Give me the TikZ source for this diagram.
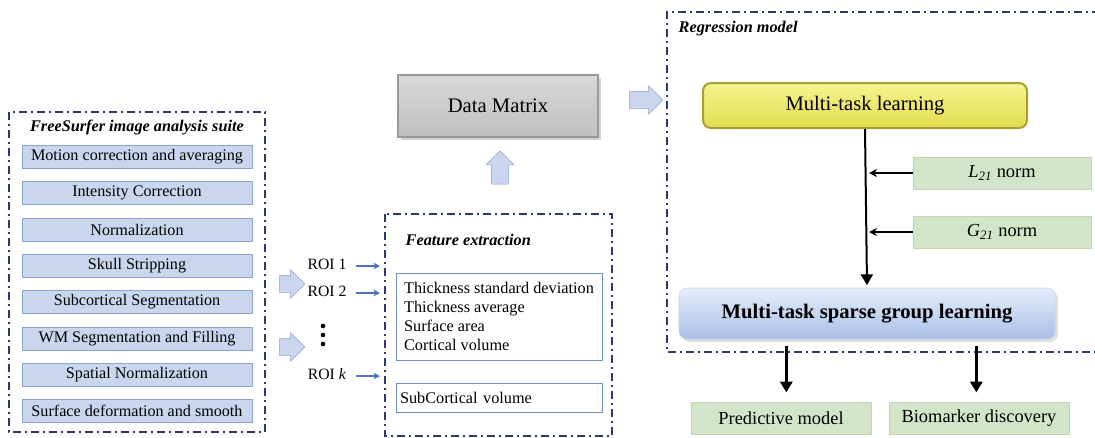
\documentclass[tikz,border=0pt]{standalone}
\usepackage{fontspec}
\setmainfont{Liberation Serif}
\usetikzlibrary{shapes.arrows,arrows.meta,shadows}

\definecolor{framecol}{HTML}{2E3A6E}
\definecolor{stepfill}{HTML}{C9D6EE}
\definecolor{stepline}{HTML}{8AA4D4}
\definecolor{normfill}{HTML}{D3E5C8}
\definecolor{roiblue}{HTML}{4A72C0}
\definecolor{mtltop}{HTML}{F6F38E}
\definecolor{mtlbot}{HTML}{E2DD4E}
\definecolor{mtlline}{HTML}{A59F35}
\definecolor{sgltop}{HTML}{E6EDFA}
\definecolor{sglbot}{HTML}{A9BFE9}

\tikzset{
  frame/.style={line width=1.1pt,color=framecol,dash pattern=on 6pt off 3pt on 1.5pt off 3pt},
  framelabel/.style={font=\fontsize{12.2}{14}\selectfont\bfseries\itshape},
  stepbox/.style={draw=stepline,fill=stepfill,minimum width=172.5pt,minimum height=17.25pt,inner sep=0pt,font=\fontsize{12.1}{14}\selectfont},
  blockarrow/.style={single arrow,draw=stepline,fill=stepfill,inner sep=6pt,single arrow head extend=4.5pt,minimum height=19pt},
  roiarrow/.style={draw=roiblue,line width=1.1pt,-{Stealth[length=5pt,width=5pt]}},
  featbox/.style={draw=roiblue!80,minimum width=154.5pt,inner sep=3pt,align=left,font=\fontsize{12.2}{14.2}\selectfont},
  normbox/.style={fill=normfill,draw=normfill!80!black!40!normfill,minimum width=133.5pt,minimum height=24pt,font=\fontsize{13.8}{15}\selectfont},
  blackarrow/.style={draw=black,line width=1.8pt,-{Triangle[length=8pt,width=9pt]}},
}

\begin{document}
\begin{tikzpicture}[x=0.75pt,y=-0.75pt]
  \useasboundingbox (0,0) rectangle (1095,437);

  % FreeSurfer pipeline
  \draw [frame] (9,112) rectangle (265,432);
  \node [framelabel] (fstitle) at (137,128) {FreeSurfer image analysis suite};
  \foreach \y/\t [count=\i] in {157/Motion correction and averaging,193/Intensity Correction,
      230/Normalization,266/Skull Stripping,302/Subcortical Segmentation,
      339/WM Segmentation and Filling,375/Spatial Normalization,411/Surface deformation and smooth}
    \node [stepbox] (s\i) at (137,\y) {\t};

  \node [blockarrow] (ba1) at (288,284) {};
  \node [blockarrow] (ba2) at (288,347) {};

  % ROIs
  \node [font=\fontsize{11.8}{13}\selectfont] (roi1) at (327,264) {ROI 1};
  \node [font=\fontsize{11.8}{13}\selectfont] (roi2) at (327,291) {ROI 2};
  \node [font=\fontsize{11.8}{13}\selectfont] (roik) at (327,374) {ROI \textit{k}};
  \foreach \y in {326,335,344}
    \fill (323,\y) circle (2.3);

  % feature extraction
  \draw [frame] (385,214) rectangle (612,436);
  \coordinate (feleft) at (380,300);
  \draw [roiarrow] ([xshift=4pt,yshift=-1.5pt]roi1.east) -- ([yshift=-1.5pt]roi1.east -| feleft);
  \draw [roiarrow] ([xshift=4pt,yshift=-1.5pt]roi2.east) -- ([yshift=-1.5pt]roi2.east -| feleft);
  \draw [roiarrow] ([xshift=4pt,yshift=-1.5pt]roik.east) -- ([yshift=-1.5pt]roik.east -| feleft);
  \node [framelabel,anchor=west] (fetitle) at (401,240) {Feature extraction};
  \node [featbox,minimum height=65.25pt] (feat) at (499,316.5) {Thickness standard deviation\\Thickness average\\Surface area\\Cortical volume};
  \node [featbox,minimum height=21.75pt,text width=148.5pt] (subc) at (499,397.5) {SubCortical volume};

  % data matrix
  \node [draw=gray!80,line width=1pt,top color=gray!30,bottom color=gray!50,minimum width=150pt,minimum height=46.5pt,
         drop shadow={opacity=0.35},font=\fontsize{15.5}{17}\selectfont] (dm) at (498,106) {Data Matrix};
  \node [blockarrow,shape border rotate=90,minimum height=25pt] (upar) at (500,171.5) {};
  \node [blockarrow,minimum height=25pt] (rightar) at (642,100) {};

  % regression model
  \draw [frame] (1100,12) -- (667,12) -- (667,352) -- (1100,352);
  \node [framelabel,anchor=west] (rmtitle) at (674,29) {Regression model};

  \node [draw=mtlline,line width=1.5pt,rounded corners=6pt,top color=mtltop,bottom color=mtlbot,
         minimum width=243pt,minimum height=33.75pt,font=\fontsize{15.5}{17}\selectfont] (mtl) at (865,105.5) {Multi-task learning};
  \node [normbox] (l21) at (1002,173) {\textit{L}\textsubscript{\textit{21}} norm};
  \node [normbox] (g21) at (1002,232) {\textit{G}\textsubscript{\textit{21}} norm};

  \node [draw=sglbot!70,rounded corners=6pt,top color=sgltop,bottom color=sglbot,drop shadow={opacity=0.25},
         minimum width=282pt,minimum height=38.25pt,font=\fontsize{15.5}{17}\selectfont\bfseries] (sgl) at (867,313.5) {Multi-task sparse group learning};

  \draw [blackarrow,line width=1.5pt] (mtl.south) -- ([yshift=2pt]sgl.north);
  \draw [black,line width=1.5pt,-{Stealth[length=6pt,width=6pt]}] (l21.west) -- ([xshift=3pt]l21.west -| mtl.south);
  \draw [black,line width=1.5pt,-{Stealth[length=6pt,width=6pt]}] (g21.west) -- ([xshift=3pt]g21.west -| mtl.south);

  % outputs
  \node [normbox,minimum width=135pt] (pm) at (781,418) {Predictive model};
  \node [normbox,minimum width=135pt] (bd) at (979,418) {Biomarker discovery};
  \draw [blackarrow,line width=2.2pt] ([xshift=4pt,yshift=-5pt]sgl.south -| pm.north) -- ([xshift=4pt,yshift=7pt]pm.north);
  \draw [blackarrow,line width=2.2pt] ([xshift=-2pt,yshift=-5pt]sgl.south -| bd.north) -- ([xshift=-2pt,yshift=7pt]bd.north);
\end{tikzpicture}
\end{document}
